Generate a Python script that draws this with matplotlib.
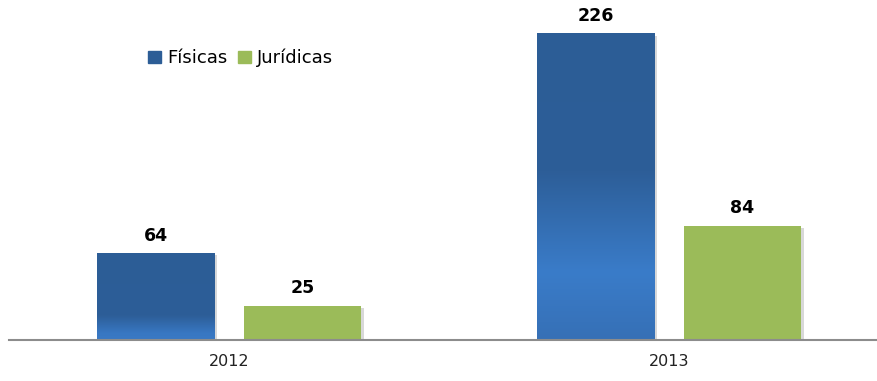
import matplotlib.pyplot as plt
import numpy as np
from matplotlib.colors import LinearSegmentedColormap
from matplotlib.patches import Patch
import matplotlib.patheffects as pe

years = ['2012', '2013']
fisicas = [64, 226]
juridicas = [25, 84]

blue = '#2C5D96'
green = '#9BBB59'

# vertical gradients for the blue bars (dark top, lighter band near the base)
grads = [
    LinearSegmentedColormap.from_list(
        'fis0', [(0.0, '#2C5D96'), (0.72, '#2D5E98'), (0.92, '#3877C2'), (1.0, '#3A79C4')]),
    LinearSegmentedColormap.from_list(
        'fis1', [(0.0, '#2C5D96'), (0.45, '#2D5E98'), (0.78, '#3A7CC9'), (1.0, '#3670B6')]),
]

fig = plt.figure(figsize=(8.78, 3.81), dpi=100)
ax = fig.add_axes([9 / 878, 41 / 381, 869 / 878, 340 / 381])

x = np.arange(len(years))
w = 0.268
off = 0.167
shadow = [pe.SimplePatchShadow(offset=(1.5, -1.5), shadow_rgbFace='#aaaaaa', alpha=0.45), pe.Normal()]

b1 = ax.bar(x - off, fisicas, w, color=blue, zorder=2, path_effects=shadow)
b2 = ax.bar(x + off, juridicas, w, color=green, zorder=2, path_effects=shadow)

g = np.linspace(0, 1, 256).reshape(-1, 1)
for r, cm in zip(b1, grads):
    x0, h = r.get_x(), r.get_height()
    ax.imshow(g, cmap=cm, vmin=0, vmax=1, aspect='auto',
              extent=(x0, x0 + r.get_width(), 0, h), zorder=3)

for bars, vals in ((b1, fisicas), (b2, juridicas)):
    for r, v in zip(bars, vals):
        ax.annotate(str(v), (r.get_x() + r.get_width() / 2, v),
                    xytext=(0, 9.2), textcoords='offset points',
                    ha='center', va='baseline', fontsize=12.5, fontweight='bold',
                    color='black')

ax.set_xlim(-0.5, 1.475)
ax.set_ylim(0, 251.1)
ax.set_xticks(x)
ax.set_xticklabels(years, fontsize=11.5, color='#222222')
ax.tick_params(axis='x', length=0, pad=10)
ax.set_yticks([])
for s in ('top', 'left', 'right'):
    ax.spines[s].set_visible(False)
ax.spines['bottom'].set_color('#8C8C8C')
ax.spines['bottom'].set_linewidth(1.5)
ax.spines['bottom'].set_zorder(4)

handles = [Patch(color=blue, label='Físicas'), Patch(color=green, label='Jurídicas')]
fig.legend(handles=handles, loc='center left', bbox_to_anchor=(148 / 878, 1 - 58 / 381),
           ncol=2, frameon=False, fontsize=13, handlelength=0.7, handleheight=0.7,
           handletextpad=0.35, columnspacing=0.6, borderpad=0, borderaxespad=0)

fig.savefig('out.png', dpi=100)
